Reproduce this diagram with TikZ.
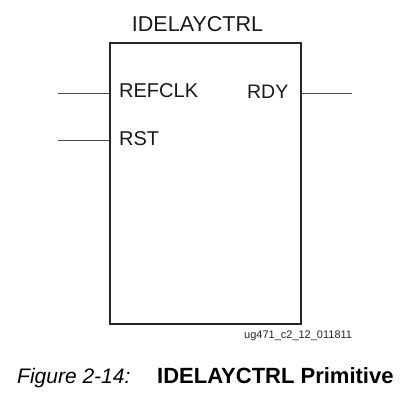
\documentclass[tikz,border=0pt]{standalone}
\usepackage{fontspec}
\setmainfont{Liberation Sans}
\begin{document}
\begin{tikzpicture}[x=1pt,y=-1pt,
  blockbox/.style={draw=black!85, line width=2pt, minimum width=190.5pt, minimum height=281pt, inner sep=0pt},
  pinline/.style={draw=black!70, line width=0.9pt},
  pinlabel/.style={font=\fontsize{20}{24}\selectfont, inner sep=0pt, text=black!90},
  titlelabel/.style={font=\fontsize{21.5}{25}\selectfont, inner sep=0pt, text=black!90},
  smalllabel/.style={font=\fontsize{11}{12}\selectfont, inner sep=0pt, text=black!85},
]
\useasboundingbox (0,0) rectangle (416,400);
\node[blockbox] (box) at (205.25,183.5) {};
\node[titlelabel, anchor=base] (title) at (197.5,31) {IDELAYCTRL};
\node[pinlabel, anchor=base west] (refclk) at (119,97.5) {REFCLK};
\node[pinlabel, anchor=base west] (rst) at (119,145) {RST};
\node[pinlabel, font=\fontsize{19.5}{24}\selectfont, anchor=base east] (rdy) at (288.5,98.5) {RDY};
\coordinate (refclkin) at (58,93.5);
\coordinate (rstin) at (58,140.5);
\coordinate (rdyout) at (352,93.5);
\draw[pinline] (refclkin) -- (refclkin -| box.west);
\draw[pinline] (rstin) -- (rstin -| box.west);
\draw[pinline] (rdyout) -- (rdyout -| box.east);
\node[smalllabel, anchor=base west] (ug) at (244,338) {ug471\_c2\_12\_011811};
\node[font=\fontsize{21}{25}\selectfont\itshape, inner sep=0pt, anchor=base west] (fig) at (17,383) {Figure 2-14:};
\node[font=\fontsize{22}{25}\selectfont\bfseries, inner sep=0pt, anchor=base west] (cap) at (157,383) {IDELAYCTRL Primitive};
\end{tikzpicture}
\end{document}
